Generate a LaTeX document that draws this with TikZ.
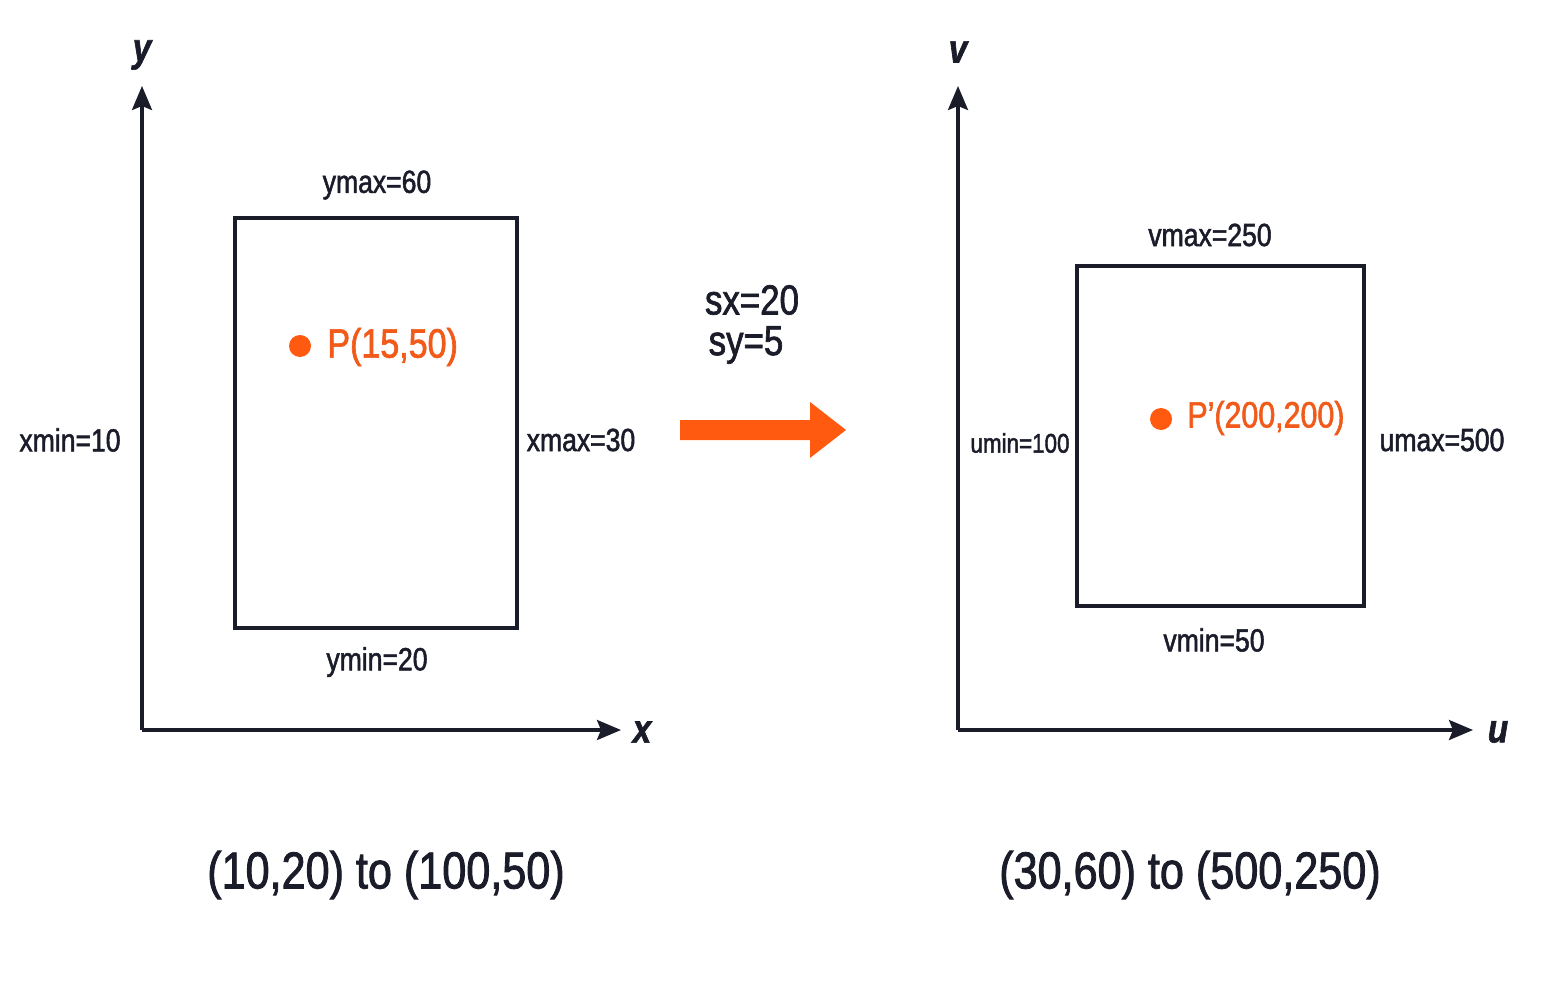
\documentclass[tikz,border=0pt]{standalone}
\usepackage{fontspec}
\setmainfont{Liberation Sans}[FakeStretch=0.83,FakeBold=1.6]
\usetikzlibrary{arrows.meta}
\definecolor{ink}{HTML}{1A1C2A}
\definecolor{orng}{HTML}{FF5A0F}
\definecolor{otext}{HTML}{F25A1A}
\tikzset{
  axis/.style={ink, line width=1.6pt, -{Stealth[length=12pt,width=10pt,inset=2pt]}},
  frame/.style={ink, line width=1.6pt},
  lbl/.style={ink, font=\fontsize{16}{18}\selectfont, inner sep=0pt},
  small/.style={ink, font=\fontsize{13.5}{16}\selectfont, inner sep=0pt},
  axname/.style={ink, font=\fontsize{20}{22}\selectfont\bfseries\itshape, inner sep=0pt},
  ptlbl/.style={otext, inner sep=0pt, anchor=west},
  dotst/.style={circle, fill=orng, minimum size=11pt, inner sep=0pt},
  big/.style={ink, font=\fontsize{26}{30}\selectfont, inner sep=0pt},
}
\begin{document}
\begin{tikzpicture}[x=0.5pt,y=-0.5pt]
\useasboundingbox[fill=white] (0,0) rectangle (1563,1006);
% left axes
\coordinate (o1) at (142,730);
\coordinate (ytip) at (142,86);
\coordinate (xtip) at (621,730);
\draw[axis] (o1) -- (ytip);
\draw[axis] (o1) -- (xtip);
\node[axname] (yl) at (142,55) {y};
\node[axname] (xl) at (642,732) {x};
% left rect
\draw[frame] (235,218) rectangle (517,628);
\node[lbl] (ymax) at (377,185) {ymax=60};
\node[lbl] (ymin) at (377,662) {ymin=20};
\node[lbl] (xmin) at (70,440) {xmin=10};
\node[lbl] (xmax) at (581,440) {xmax=30};
\node[dotst] (p) at (300,346) {};
\node[ptlbl, font=\fontsize{20.5}{24}\selectfont] (pl) at (327,347) {P(15,50)};
% middle
\node[ink, font=\fontsize{21}{24}\selectfont, inner sep=0pt] (sx) at (752,300) {sx=20};
\node[ink, font=\fontsize{21}{24}\selectfont, inner sep=0pt] (sy) at (746,345) {sy=5};
\fill[orng] (680,420) -- (810,420) -- (810,402) -- (846,430) -- (810,458) -- (810,440) -- (680,440) -- cycle;
% right axes
\coordinate (o2) at (958,730);
\coordinate (vtip) at (958,86);
\coordinate (utip) at (1473,730);
\draw[axis] (o2) -- (vtip);
\draw[axis] (o2) -- (utip);
\node[axname] (vl) at (958,52) {v};
\node[axname] (ul) at (1498,732) {u};
% right rect
\draw[frame] (1077,266) rectangle (1364,606);
\node[lbl] (vmax) at (1210,235) {vmax=250};
\node[lbl] (vmin) at (1214,640) {vmin=50};
\node[small] (umin) at (1020,443) {umin=100};
\node[lbl] (umax) at (1442,440) {umax=500};
\node[dotst] (q) at (1161,419) {};
\node[ptlbl, font=\fontsize{18.3}{22}\selectfont] (ql) at (1187,418) {P'(200,200)};
% bottom
\node[big] (c1) at (386,875) {(10,20) to (100,50)};
\node[big] (c2) at (1190,875) {(30,60) to (500,250)};
\end{tikzpicture}
\end{document}
